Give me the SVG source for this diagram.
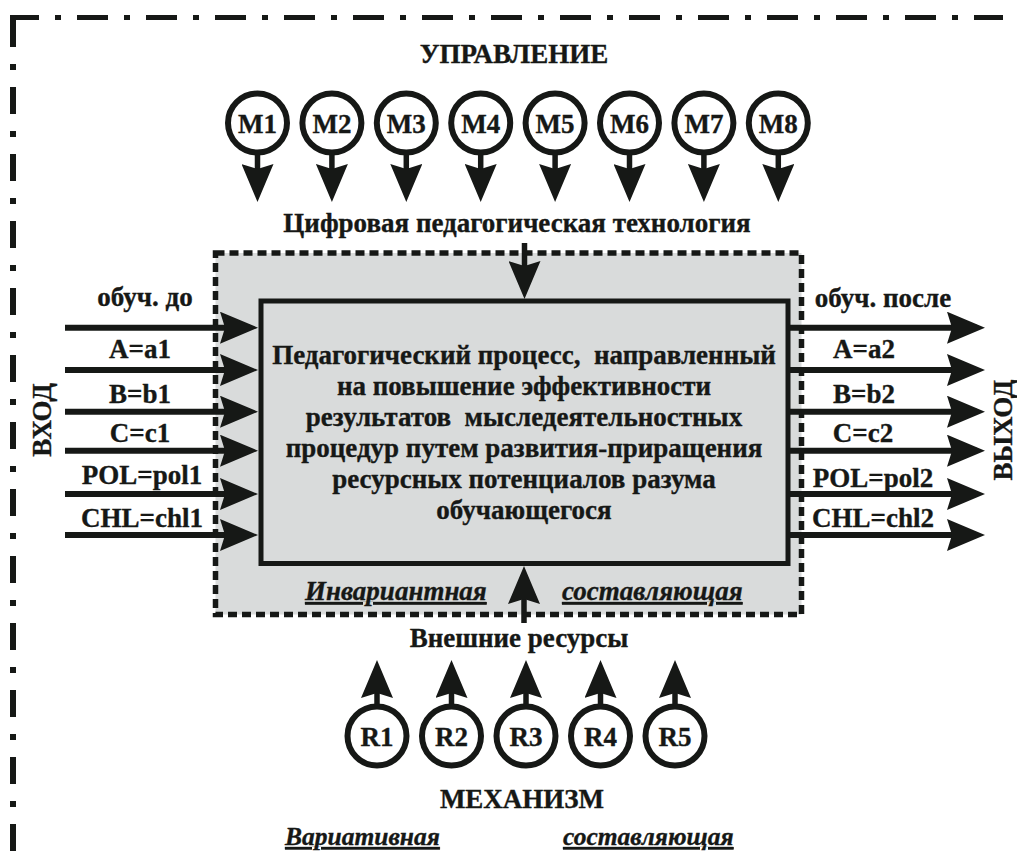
<svg xmlns="http://www.w3.org/2000/svg" width="1017" height="861" viewBox="0 0 1017 861" font-family="'Liberation Serif', 'DejaVu Serif', serif">
<defs>
<style>
text { font-family: "Liberation Serif", "DejaVu Serif", serif; font-weight: 700; fill: #161816; stroke: #161816; stroke-width: 0.35; font-size: 27px; }
.c { text-anchor: middle; }
.it { font-style: italic; text-decoration: underline; }
.sm { font-size: 25.5px; }
.conn line { stroke: #161816; fill: none; marker-end: url(#ah); }
.h { stroke-width: 6; }
.v { stroke-width: 5.5; }
.circ { fill: #ffffff; stroke: #161816; stroke-width: 6; }
.frame { stroke: #161816; fill: none; }
</style>
<marker id="ah" viewBox="0 0 38 32" refX="30" refY="16" markerWidth="38" markerHeight="32" markerUnits="userSpaceOnUse" orient="auto">
<path d="M0,0 L38,16 L0,32 L5,16 Z" fill="#161816"/>
</marker>
</defs>
<rect width="1017" height="861" fill="#ffffff"/>

<g id="border">
<line class="frame" x1="10" y1="17.5" x2="1003" y2="17.5" stroke-width="5" stroke-dasharray="31 16 6 16" stroke-dashoffset="2"/>
<line class="frame" x1="13" y1="20" x2="13" y2="861" stroke-width="6" stroke-dasharray="27 17 6 17"/>
</g>

<g id="labels-top">
<text class="c" x="514" y="63">УПРАВЛЕНИЕ</text>
<text class="c" x="517" y="232">Цифровая педагогическая технология</text>
</g>

<g id="process">
<rect x="215.5" y="253" width="586" height="361.5" fill="#d9dbdb" stroke="#161816" stroke-width="5.5" stroke-dasharray="9 5"/>
<rect x="261" y="301" width="527" height="262.5" fill="#d9dbdb" stroke="#161816" stroke-width="5"/>
<text class="c" xml:space="preserve"><tspan x="524" y="364">Педагогический процесс,  направленный</tspan><tspan x="524" y="395">на повышение эффективности</tspan><tspan x="524" y="426">результатов  мыследеятельностных</tspan><tspan x="524" y="457">процедур путем развития-приращения</tspan><tspan x="524" y="488">ресурсных потенциалов разума</tspan><tspan x="524" y="519">обучающегося</tspan></text>
<text class="it" x="305" y="600">Инвариантная</text>
<text class="it" x="562" y="600">составляющая</text>
</g>

<g id="M1"><circle class="circ" cx="257.5" cy="123" r="29.5"/><text class="c" x="257.5" y="132.5">M1</text></g>
<g id="M2"><circle class="circ" cx="331.9" cy="123" r="29.5"/><text class="c" x="331.9" y="132.5">M2</text></g>
<g id="M3"><circle class="circ" cx="406.3" cy="123" r="29.5"/><text class="c" x="406.3" y="132.5">M3</text></g>
<g id="M4"><circle class="circ" cx="480.7" cy="123" r="29.5"/><text class="c" x="480.7" y="132.5">M4</text></g>
<g id="M5"><circle class="circ" cx="555.1" cy="123" r="29.5"/><text class="c" x="555.1" y="132.5">M5</text></g>
<g id="M6"><circle class="circ" cx="629.5" cy="123" r="29.5"/><text class="c" x="629.5" y="132.5">M6</text></g>
<g id="M7"><circle class="circ" cx="703.9" cy="123" r="29.5"/><text class="c" x="703.9" y="132.5">M7</text></g>
<g id="M8"><circle class="circ" cx="778.3" cy="123" r="29.5"/><text class="c" x="778.3" y="132.5">M8</text></g>

<g id="R1"><circle class="circ" cx="377" cy="736" r="29.5"/><text class="c" x="377" y="745.5">R1</text></g>
<g id="R2"><circle class="circ" cx="451.5" cy="736" r="29.5"/><text class="c" x="451.5" y="745.5">R2</text></g>
<g id="R3"><circle class="circ" cx="526" cy="736" r="29.5"/><text class="c" x="526" y="745.5">R3</text></g>
<g id="R4"><circle class="circ" cx="600.5" cy="736" r="29.5"/><text class="c" x="600.5" y="745.5">R4</text></g>
<g id="R5"><circle class="circ" cx="675" cy="736" r="29.5"/><text class="c" x="675" y="745.5">R5</text></g>

<g id="input">
<text transform="translate(51,420) rotate(-90)" class="c">ВХОД</text>
<text class="c" x="145" y="306">обуч. до</text>
<text class="c" x="140" y="358">A=a1</text>
<text class="c" x="140" y="402.5">B=b1</text>
<text class="c" x="140" y="441.5">C=c1</text>
<text class="c" x="142" y="484">POL=pol1</text>
<text class="c" x="142" y="526.5">CHL=chl1</text>
</g>

<g id="output">
<text transform="translate(1012,430) rotate(-90)" class="c">ВЫХОД</text>
<text class="c" x="883" y="307">обуч. после</text>
<text class="c" x="864" y="358">A=a2</text>
<text class="c" x="864" y="402.5">B=b2</text>
<text class="c" x="863" y="441.5">C=c2</text>
<text class="c" x="873" y="486.5">POL=pol2</text>
<text class="c" x="873" y="526.5">CHL=chl2</text>
</g>

<g id="labels-bottom">
<text class="c" x="519" y="647">Внешние ресурсы</text>
<text class="c" x="522" y="808">МЕХАНИЗМ</text>
<text class="it sm" x="285" y="845">Вариативная</text>
<text class="it sm" x="563" y="845">составляющая</text>
</g>

<g id="connectors" class="conn">
<line class="h" x1="65" y1="327.7" x2="250" y2="327.7"/>
<line class="h" x1="65" y1="370" x2="250" y2="370"/>
<line class="h" x1="65" y1="411.7" x2="250" y2="411.7"/>
<line class="h" x1="65" y1="450.7" x2="250" y2="450.7"/>
<line class="h" x1="65" y1="494" x2="250" y2="494"/>
<line class="h" x1="65" y1="535" x2="250" y2="535"/>
<line class="h" x1="788" y1="327.7" x2="977" y2="327.7"/>
<line class="h" x1="788" y1="370" x2="977" y2="370"/>
<line class="h" x1="788" y1="411.7" x2="977" y2="411.7"/>
<line class="h" x1="788" y1="450.7" x2="977" y2="450.7"/>
<line class="h" x1="788" y1="494" x2="977" y2="494"/>
<line class="h" x1="788" y1="535" x2="977" y2="535"/>
<line class="v" x1="257.5" y1="152" x2="257.5" y2="194"/>
<line class="v" x1="331.9" y1="152" x2="331.9" y2="194"/>
<line class="v" x1="406.3" y1="152" x2="406.3" y2="194"/>
<line class="v" x1="480.7" y1="152" x2="480.7" y2="194"/>
<line class="v" x1="555.1" y1="152" x2="555.1" y2="194"/>
<line class="v" x1="629.5" y1="152" x2="629.5" y2="194"/>
<line class="v" x1="703.9" y1="152" x2="703.9" y2="194"/>
<line class="v" x1="778.3" y1="152" x2="778.3" y2="194"/>
<line class="v" x1="524.5" y1="243" x2="524.5" y2="291"/>
<line class="v" x1="524" y1="623" x2="524" y2="574"/>
<line class="v" x1="377" y1="706" x2="377" y2="668"/>
<line class="v" x1="451.5" y1="706" x2="451.5" y2="668"/>
<line class="v" x1="526" y1="706" x2="526" y2="668"/>
<line class="v" x1="600.5" y1="706" x2="600.5" y2="668"/>
<line class="v" x1="675" y1="706" x2="675" y2="668"/>
</g>
</svg>
